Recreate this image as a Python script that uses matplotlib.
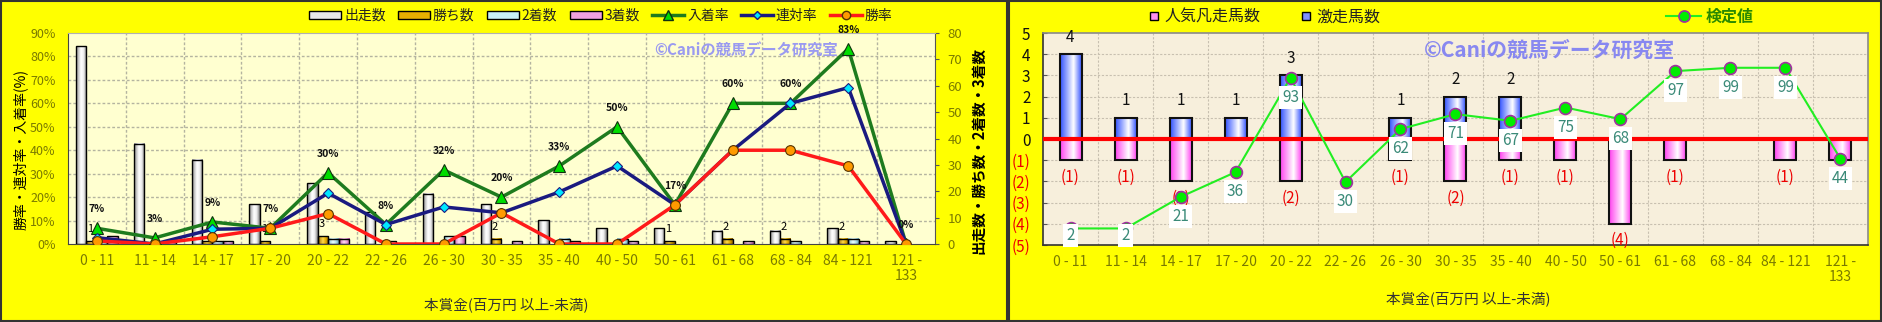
import matplotlib
matplotlib.use('Agg')
import matplotlib.pyplot as plt
import numpy as np
from matplotlib.patches import Rectangle, Patch
from matplotlib.lines import Line2D
from matplotlib.colors import LinearSegmentedColormap

plt.rcParams['font.family'] = ['Noto Sans CJK JP', 'DejaVu Sans']

# ---------------- data ----------------
categories = ['0 - 11', '11 - 14', '14 - 17', '17 - 20', '20 - 22', '22 - 26', '26 - 30',
              '30 - 35', '35 - 40', '40 - 50', '50 - 61', '61 - 68', '68 - 84', '84 - 121',
              '121 -\n133']
runs = [75, 38, 32, 15, 23, 12, 19, 15, 9, 6, 6, 5, 5, 6, 1]
wins = [1, 0, 1, 1, 3, 0, 0, 2, 0, 0, 1, 2, 2, 2, 0]
seconds = [1, 0, 1, 0, 2, 1, 3, 0, 2, 2, 0, 0, 1, 2, 0]
thirds = [3, 1, 1, 0, 2, 0, 3, 1, 1, 1, 0, 1, 0, 1, 0]
win_rate = [1.3, 0.0, 3.1, 6.7, 13.0, 0.0, 0.0, 13.3, 0.0, 0.0, 16.7, 40.0, 40.0, 33.3, 0.0]
rentai_rate = [2.7, 0.0, 6.3, 6.7, 21.7, 8.3, 15.8, 13.3, 22.2, 33.3, 16.7, 40.0, 60.0, 66.7, 0.0]
place_rate = [6.7, 2.6, 9.4, 6.7, 30.4, 8.3, 31.6, 20.0, 33.3, 50.0, 16.7, 60.0, 60.0, 83.3, 0.0]
place_labels = ['7%', '3%', '9%', '7%', '30%', '8%', '32%', '20%', '33%', '50%', '17%',
                '60%', '60%', '83%', '0%']
pct_ticks = [0, 10, 20, 30, 40, 50, 60, 70, 80, 90]
cnt_ticks = [0, 10, 20, 30, 40, 50, 60, 70, 80]

gekisou = [4, 1, 1, 1, 3, 0, 1, 2, 2, 0, 0, 0, 0, 0, 0]
bonsou = [1, 1, 2, 0, 2, 0, 1, 2, 1, 1, 4, 1, 0, 1, 1]
kentei = [2, 2, 21, 36, 93, 30, 62, 71, 67, 75, 68, 97, 99, 99, 44]
r_ticks = [5, 4, 3, 2, 1, 0, -1, -2, -3, -4, -5]
r_tick_labels = ['5', '4', '3', '2', '1', '0', '(1)', '(2)', '(3)', '(4)', '(5)']

# ---------------- style ----------------
W, H = 1883, 322
OLIVE = '#7a7a00'
fig = plt.figure(figsize=(W / 100, H / 100), dpi=100)
fig.patch.set_facecolor('#ffff00')


def fx(px):
    return px / W


def fy(py):
    return 1 - py / H


def fill_gradient(ax, bars, stops, z):
    cmap = LinearSegmentedColormap.from_list('g', stops)
    grad = np.linspace(0, 1, 128).reshape(1, -1)
    for b in bars:
        h = b.get_height()
        if h == 0:
            continue
        x0, w, y0 = b.get_x(), b.get_width(), b.get_y()
        ax.imshow(grad, extent=[x0, x0 + w, min(y0, y0 + h), max(y0, y0 + h)],
                  aspect='auto', cmap=cmap, zorder=z, interpolation='bilinear')


# panel borders
fig.add_artist(Rectangle((fx(1), fy(321)), fx(1006), 320 / H, transform=fig.transFigure,
                         fill=False, edgecolor='#333333', lw=1.5))
fig.add_artist(Rectangle((fx(1009), fy(321)), fx(872), 320 / H, transform=fig.transFigure,
                         fill=False, edgecolor='#333333', lw=1.5))

# ================= LEFT PANEL =================
axc = fig.add_axes([fx(68), fy(244), fx(867), 211 / H])   # counts (bars), right ticks
axc.set_facecolor('#ffffd0')
axp = axc.twinx()   # percent lines (drawn on top)
x = np.arange(len(categories))
bw = 0.18
lw_of = lambda vals: [1.0 if v > 0 else 0 for v in vals]
series = [
    (runs, -1.5, [(0, '#8c8c8c'), (0.45, '#ffffff'), (0.7, '#f0f0f0'), (1, '#7a7a7a')]),
    (wins, -0.5, [(0, '#a07000'), (0.45, '#ffd84a'), (0.7, '#e8b000'), (1, '#906000')]),
    (seconds, 0.5, [(0, '#7fbccc'), (0.45, '#eaffff'), (0.7, '#c0e8f0'), (1, '#6aa8b8')]),
    (thirds, 1.5, [(0, '#c860a8'), (0.45, '#ffd8f4'), (0.7, '#f0a8e0'), (1, '#b05090')]),
]
for vals, off, stops in series:
    bars = axc.bar(x + off * bw, vals, bw, facecolor='none', edgecolor='black',
                   linewidth=lw_of(vals), zorder=3)
    fill_gradient(axc, bars, stops, 2.5)

for i, v in enumerate(wins):
    if v > 0:
        axc.annotate(str(v), (x[i] - 0.5 * bw, v), xytext=(-1, 5), textcoords='offset points',
                     ha='center', va='bottom', fontsize=8, color='black', zorder=6)

# grid (percent levels expressed in count units)
for p in pct_ticks[1:-1]:
    axc.axhline(p * 80 / 90, color='#b4b4a0', lw=1, ls=(0, (2, 1.5)), zorder=1)
for b in np.arange(0.5, len(categories) - 1, 1):
    axc.axvline(b, color='#b4b4a0', lw=1, ls=(0, (2, 1.5)), zorder=1)

axc.set_xlim(-0.5, len(categories) - 0.5)
axc.set_ylim(0, 80)
axc.yaxis.set_ticks_position('right')
axc.set_yticks(cnt_ticks)
axc.set_yticklabels([str(t) for t in cnt_ticks], color=OLIVE, fontsize=9.5)
axc.tick_params(axis='y', length=3, pad=6, color='#555555')
axc.set_xticks(x)
axc.set_xticklabels(categories, color=OLIVE, fontsize=10, linespacing=1.1)
axc.tick_params(axis='x', length=0, pad=7)
axc.spines['top'].set_color('#b0b0b0')
axc.spines['right'].set_color('#555555')
axc.spines['bottom'].set_color('#444444')
axc.spines['left'].set_color('#444444')

axp.yaxis.set_ticks_position('left')
axp.yaxis.set_label_position('left')
axp.set_ylim(0, 90)
axp.set_yticks(pct_ticks)
axp.set_yticklabels([f'{t}%' for t in pct_ticks], color=OLIVE, fontsize=9)
axp.tick_params(axis='y', length=0, pad=9)
for s in axp.spines.values():
    s.set_visible(False)

axp.plot(x, place_rate, color='#1e7b1e', lw=2.5, marker='^', ms=9, mfc='#00dd00', mec='#103010',
         mew=0.8, zorder=4)
axp.plot(x, rentai_rate, color='#1a1a80', lw=2.5, marker='D', ms=5.5, mfc='#00e8ff', mec='#1a1a80',
         mew=0.8, zorder=5)
axp.plot(x, win_rate, color='#ff1a1a', lw=2.5, marker='o', ms=7, mfc='#ff9a00', mec='#553300',
         mew=0.8, zorder=6)
for i, lab in enumerate(place_labels):
    axp.annotate(lab, (x[i], place_rate[i]), xytext=(0, 10), textcoords='offset points',
                 ha='center', va='bottom', fontsize=7.5, fontweight='bold', color='#111111',
                 zorder=7)
axp.set_xlim(-0.5, len(categories) - 0.5)

fig.text(fx(746), fy(50), '©Caniの競馬データ研究室', color='#9a9af0', fontsize=11,
         fontweight='bold', ha='center', va='center', zorder=8)
fig.text(fx(20), fy(150), '勝率・連対率・入着率(%)', rotation=90, ha='center', va='center',
         fontsize=10, color='black')
fig.text(fx(978), fy(150), '出走数・勝ち数・2着数・3着数', rotation=90, ha='center', va='center',
         fontsize=10.5, fontweight='bold', color='black')
fig.text(fx(506), fy(305), '本賞金(百万円 以上-未満)', ha='center', va='center', fontsize=10.5,
         color='#333333')

left_handles = [
    Patch(facecolor='#e8e8e8', edgecolor='black', label='出走数'),
    Patch(facecolor='#e8b000', edgecolor='black', label='勝ち数'),
    Patch(facecolor='#c8f0f8', edgecolor='black', label='2着数'),
    Patch(facecolor='#f0a0e0', edgecolor='black', label='3着数'),
    Line2D([], [], color='#1e7b1e', lw=2.5, marker='^', ms=7, mfc='#00dd00', mec='#103010',
           label='入着率'),
    Line2D([], [], color='#1a1a80', lw=2.5, marker='D', ms=4.5, mfc='#00e8ff', mec='#1a1a80',
           label='連対率'),
    Line2D([], [], color='#ff1a1a', lw=2.5, marker='o', ms=6, mfc='#ff9a00', mec='#553300',
           label='勝率'),
]
fig.legend(handles=left_handles, loc='center', bbox_to_anchor=(fx(601), fy(16)), ncol=7,
           frameon=False, fontsize=10, handlelength=2.3, handleheight=0.55, handletextpad=0.2,
           columnspacing=0.9, borderaxespad=0, labelcolor='#222222')

# ================= RIGHT PANEL =================
axr = fig.add_axes([fx(1043), fy(245), fx(825), 212 / H])
axr.set_facecolor('#f7efdc')
axk = axr.twinx()
rw = 0.4
bars_pos = axr.bar(x, gekisou, rw, facecolor='none', edgecolor='#111111',
                   linewidth=[1.5 if v > 0 else 0 for v in gekisou], zorder=3)
fill_gradient(axr, bars_pos, [(0, '#3050ff'), (0.62, '#ffffff'), (1, '#3050ff')], 2.5)
neg = [-v for v in bonsou]
bars_neg = axr.bar(x, neg, rw, facecolor='none', edgecolor='#111111',
                   linewidth=[1.5 if v > 0 else 0 for v in bonsou], zorder=3)
fill_gradient(axr, bars_neg, [(0, '#ff40f0'), (0.62, '#ffffff'), (1, '#ff40f0')], 2.5)

for i, v in enumerate(gekisou):
    if v > 0:
        axr.annotate(str(v), (x[i], v), xytext=(0, 6), textcoords='offset points', ha='center',
                     va='bottom', fontsize=11, color='#111111', zorder=5)
for i, v in enumerate(bonsou):
    if v > 0:
        axr.annotate(f'({v})', (x[i], -v), xytext=(0, -6), textcoords='offset points',
                     ha='center', va='top', fontsize=11, color='#ee0000', zorder=5)

axr.axhline(0, color='#ff0000', lw=3, zorder=4)
for t in r_ticks[1:-1]:
    if t != 0:
        axr.axhline(t, color='#c8c0b0', lw=0.8, ls=(0, (2, 1.5)), zorder=1)
for b in np.arange(0.5, len(categories) - 1, 1):
    axr.axvline(b, color='#c8c0b0', lw=0.8, ls=(0, (2, 1.5)), zorder=1)
axr.set_xlim(-0.5, len(categories) - 0.5)
axr.set_ylim(-5, 5)
axr.yaxis.set_ticks_position('left')
axr.set_yticks(r_ticks)
axr.set_yticklabels(r_tick_labels, fontsize=11)
for lab, t in zip(axr.get_yticklabels(), r_ticks):
    lab.set_color('#ee0000' if t < 0 else '#111111')
axr.tick_params(axis='y', length=3, direction='in', pad=9, color='#555555')
axr.set_xticks(x)
axr.set_xticklabels(categories, color=OLIVE, fontsize=10, linespacing=1.1)
axr.tick_params(axis='x', length=0, pad=7)
for s in axr.spines.values():
    s.set_color('#8a8a8a')
    s.set_linewidth(1.2)
axr.spines['left'].set_color('#333333')
axr.spines['bottom'].set_color('#333333')

axk.set_ylim(-8, 120)
axk.set_yticks([])
for s in axk.spines.values():
    s.set_visible(False)
axk.plot(x, kentei, color='#22ee22', lw=1.5, marker='o', ms=8.5, mfc='#00ee00', mec='#a030a0',
         mew=1.2, zorder=5)
for i, v in enumerate(kentei):
    axk.annotate(str(v), (x[i], max(v - 11.8, -2.5)), ha='center', va='center', fontsize=11,
                 color='#3a8a78', zorder=7,
                 bbox=dict(boxstyle='square,pad=0.2', facecolor='white', edgecolor='none'))
axk.set_xlim(-0.5, len(categories) - 0.5)

fig.text(fx(1549), fy(50), '©Caniの競馬データ研究室', color='#8888f0', fontsize=15,
         fontweight='bold', ha='center', va='center', zorder=8)
fig.text(fx(1468), fy(299), '本賞金(百万円 以上-未満)', ha='center', va='center', fontsize=10.5,
         color='#333333')

right_handles = [
    Line2D([], [], ls='none', marker='s', ms=6, mfc='#ff90f0', mec='black', label='人気凡走馬数'),
    Line2D([], [], ls='none', marker='s', ms=6, mfc='#8090ff', mec='black', label='激走馬数'),
]
fig.legend(handles=right_handles, loc='center', bbox_to_anchor=(fx(1264), fy(17)), ncol=2,
           frameon=False, fontsize=11.5, handlelength=0.8, handletextpad=0.2,
           columnspacing=2.5, borderaxespad=0, labelcolor='#222222')
leg3 = fig.legend(handles=[Line2D([], [], color='#22ee22', lw=1.5, marker='o', ms=8, mfc='#00ee00',
                                  mec='#a030a0', mew=1.2, label='検定値')],
                  loc='center', bbox_to_anchor=(fx(1710), fy(17)), frameon=False, fontsize=11.5,
                  handlelength=2.2, handletextpad=0.3, borderaxespad=0)
for t in leg3.get_texts():
    t.set_color('#2a8a00')
    t.set_fontweight('bold')

fig.savefig('out.png', dpi=100, facecolor=fig.get_facecolor())
